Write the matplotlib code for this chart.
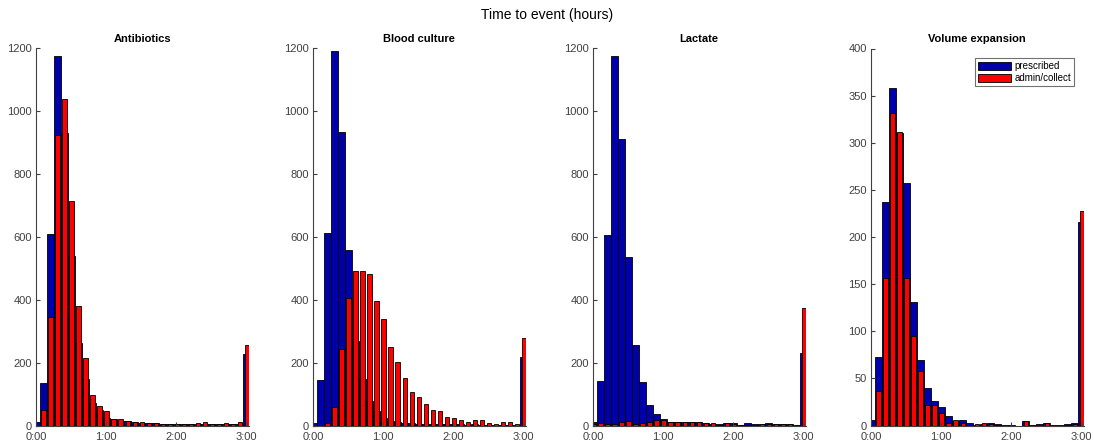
import numpy as np
import matplotlib
matplotlib.use('Agg')
import matplotlib.pyplot as plt

plt.rcParams['font.family'] = ['Liberation Sans', 'DejaVu Sans']

# bin centers in minutes (0:00 .. 3:00, 6 min bins)
bin_minutes = list(range(0, 181, 6))

titles = ['Antibiotics', 'Blood culture', 'Lactate', 'Volume expansion']
series_labels = ['prescribed', 'admin/collect']

antibiotics_prescribed = [10, 135, 610, 1175, 930, 540, 262, 148, 72, 50, 25, 20, 15, 13, 10,
                          9, 8, 7, 6, 5, 5, 4, 5, 6, 5, 4, 5, 5, 5, 6, 228]
antibiotics_admin = [0, 50, 345, 925, 1040, 715, 380, 215, 97, 63, 47, 20, 20, 14, 10,
                     10, 8, 7, 6, 5, 5, 5, 5, 7, 10, 5, 5, 7, 5, 10, 257]

blood_prescribed = [8, 145, 612, 1192, 935, 560, 268, 148, 78, 45, 25, 13, 10, 8, 7,
                    6, 5, 5, 5, 4, 4, 4, 3, 4, 3, 3, 3, 3, 3, 3, 218]
blood_admin = [0, 0, 8, 60, 245, 405, 493, 493, 483, 397, 340, 250, 203, 150, 108,
               90, 68, 50, 47, 28, 23, 17, 12, 17, 17, 7, 5, 10, 10, 5, 280]

lactate_prescribed = [10, 143, 605, 1175, 912, 535, 255, 140, 65, 38, 22, 12, 10, 10, 10,
                      10, 8, 5, 5, 8, 8, 3, 8, 4, 5, 7, 5, 5, 4, 3, 232]
lactate_admin = [5, 8, 6, 5, 12, 15, 6, 8, 10, 18, 16, 12, 12, 10, 10,
                 10, 7, 7, 3, 8, 5, 2, 3, 3, 4, 5, 4, 5, 5, 3, 375]

volume_prescribed = [6, 73, 237, 358, 310, 257, 131, 69, 40, 26, 20, 10, 5, 6, 3,
                     1, 2, 3, 2, 1, 1, 0, 5, 1, 2, 3, 1, 1, 2, 3, 216]
volume_admin = [0, 37, 157, 332, 311, 157, 95, 58, 22, 22, 13, 3, 6, 3, 0,
                2, 3, 2, 1, 0, 0, 0, 5, 0, 0, 3, 0, 0, 1, 2, 228]

prescribed_all = [antibiotics_prescribed, blood_prescribed, lactate_prescribed, volume_prescribed]
admin_all = [antibiotics_admin, blood_admin, lactate_admin, volume_admin]
y_max = [1200, 1200, 1200, 400]
y_step = [200, 200, 200, 50]

x_ticks = [0, 60, 120, 180]
x_ticklabels = ['0:00', '1:00', '2:00', '3:00']

BLUE = '#0000AA'
RED = '#FF0000'
AXCOLOR = '0.25'

fig = plt.figure(figsize=(10.94, 4.43), dpi=100)

lefts = [36, 313, 593, 871]
for i in range(4):
    ax = fig.add_axes([lefts[i] / 1094, 17.5 / 443, 212.5 / 1094, 377 / 443])

    x = np.array(bin_minutes)
    ax.bar(x, prescribed_all[i], width=6, color=BLUE, edgecolor='k', linewidth=0.6,
           label=series_labels[0])
    ax.bar(x + 0.3, admin_all[i], width=3.7, color=RED, edgecolor='k', linewidth=0.6,
           label=series_labels[1])

    ax.set_xlim(0, 181.5)
    ax.set_ylim(0, y_max[i])
    ax.set_xticks(x_ticks)
    ax.set_xticklabels(x_ticklabels)
    ax.set_yticks(np.arange(0, y_max[i] + 1, y_step[i]))

    ax.spines['top'].set_visible(False)
    ax.spines['right'].set_visible(False)
    ax.spines['left'].set_color(AXCOLOR)
    ax.spines['bottom'].set_color(AXCOLOR)
    ax.tick_params(direction='in', length=3, labelsize=8, colors=AXCOLOR)
    ax.tick_params(axis='x', pad=5)
    ax.tick_params(axis='y', pad=3)

    ax.set_title(titles[i], fontsize=8, fontweight='bold', pad=5)

    if i == 3:
        leg = ax.legend(loc='upper right', fontsize=7, frameon=True, fancybox=False,
                        edgecolor='0.3', handlelength=3.4, handleheight=0.9,
                        handletextpad=0.3, borderpad=0.3, labelspacing=0.2,
                        borderaxespad=1.0)
        leg.get_frame().set_linewidth(0.8)

fig.text(0.5, 1 - 15 / 443, 'Time to event (hours)', ha='center', va='center', fontsize=10)

fig.savefig('out.png', dpi=100)
